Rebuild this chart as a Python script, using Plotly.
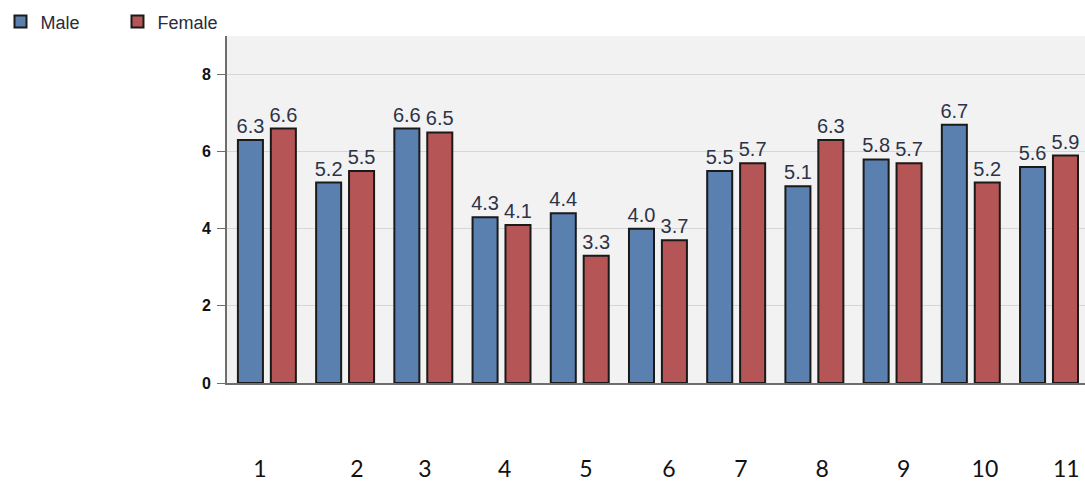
import plotly.graph_objects as go

# Survey results per item, split by gender
categories = ["1", "2", "3", "4", "5", "6", "7", "8", "9", "10", "11"]
male = [6.3, 5.2, 6.6, 4.3, 4.4, 4.0, 5.5, 5.1, 5.8, 6.7, 5.6]
female = [6.6, 5.5, 6.5, 4.1, 3.3, 3.7, 5.7, 6.3, 5.7, 5.2, 5.9]

# The item numbers below the axis sit slightly off the bar groups
label_positions = [-0.09, 1.15, 2.02, 3.04, 4.08, 5.14, 6.06, 7.10, 8.14, 9.18, 10.22]

idx = list(range(len(categories)))

label_font = dict(family="Liberation Sans, Arial", size=20, color="#2e3347")

fig = go.Figure()
fig.add_trace(go.Bar(
    name="Male", x=idx, y=male,
    marker=dict(color="#5a80b0", line=dict(color="#1a1a1a", width=2)),
    text=[f"{v:.1f}" for v in male], textposition="outside",
    textfont=label_font, constraintext="none", cliponaxis=False,
))
fig.add_trace(go.Bar(
    name="Female", x=idx, y=female,
    marker=dict(color="#b65555", line=dict(color="#1a1a1a", width=2)),
    text=[f"{v:.1f}" for v in female], textposition="outside",
    textfont=label_font, constraintext="none", cliponaxis=False,
))

fig.update_layout(
    width=1085, height=487,
    margin=dict(l=225, r=0, t=36, b=104),
    paper_bgcolor="white",
    plot_bgcolor="#f2f2f2",
    barmode="group",
    bargap=0.158,
    bargroupgap=0.24,
    showlegend=True,
    legend=dict(
        orientation="h", x=-0.264, y=1.094, xanchor="left", yanchor="top",
        font=dict(family="Liberation Sans, Arial", size=18, color="#2a2a3a"),
        entrywidth=72, entrywidthmode="pixels",
        bgcolor="rgba(0,0,0,0)", traceorder="normal",
    ),
    xaxis=dict(
        range=[-0.51, 10.46],
        tickmode="array", tickvals=label_positions, ticktext=categories,
        ticks="", showgrid=False, zeroline=False,
        showline=True, linecolor="#6e6e6e", linewidth=2,
        tickfont=dict(family="Lato, Open Sans", size=23, color="#111"),
        ticklabelstandoff=64,
    ),
    yaxis=dict(
        range=[0, 9], tickvals=[0, 2, 4, 6, 8],
        showgrid=True, gridcolor="#d6d6d6", gridwidth=1, zeroline=False,
        showline=True, linecolor="#6e6e6e", linewidth=2,
        ticks="outside", ticklen=8, tickcolor="#6e6e6e", tickwidth=1,
        tickfont=dict(family="Liberation Sans, Arial", size=16, color="#111", weight="bold"),
        ticklabelstandoff=3,
    ),
)

fig.write_html("out.html")
